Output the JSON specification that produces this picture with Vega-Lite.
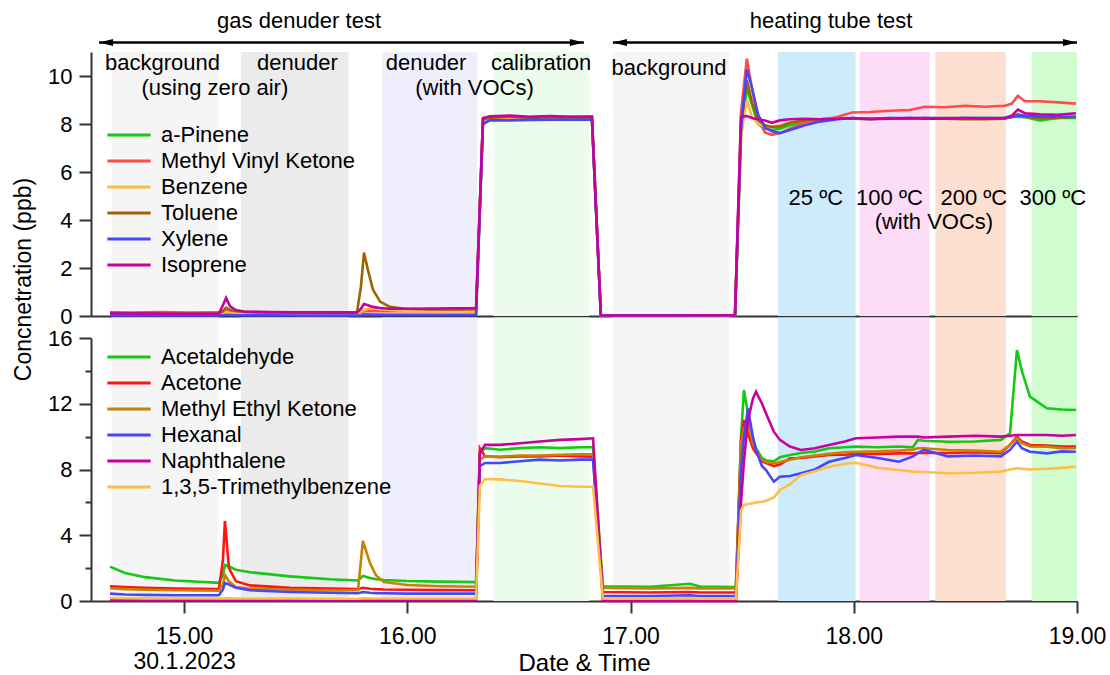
{
  "$schema": "https://vega.github.io/schema/vega-lite/v6.json",
  "background": "white",
  "padding": {"left": 12, "top": 10, "right": 5, "bottom": 2},
  "config": {
    "font": "Liberation Sans",
    "view": {"stroke": null},
    "axis": {"domainColor": "#333333", "tickColor": "#333333", "domainWidth": 2, "tickWidth": 2, "labelColor": "#000000", "titleColor": "#000000", "labelFont": "Liberation Sans", "titleFont": "Liberation Sans", "titleFontWeight": "normal", "grid": false},
    "legend": {"labelFont": "Liberation Sans", "labelColor": "#000000"}
  },
  "bounds": "flush",
  "spacing": 22,
  "datasets": {
    "regions": [
      {"phase": "bg1", "start": 14.676, "end": 15.154},
      {"phase": "den", "start": 15.254, "end": 15.737},
      {"phase": "denvoc", "start": 15.887, "end": 16.313},
      {"phase": "cal", "start": 16.386, "end": 16.815},
      {"phase": "bg2", "start": 16.92, "end": 17.443},
      {"phase": "t25", "start": 17.66, "end": 18.008},
      {"phase": "t100", "start": 18.026, "end": 18.34},
      {"phase": "t200", "start": 18.365, "end": 18.681},
      {"phase": "t300", "start": 18.797, "end": 19.0}
    ],
    "notes": [
      {"x": 14.903, "y": 10.54, "text": "background"},
      {"x": 15.138, "y": 9.5, "text": "(using zero air)"},
      {"x": 15.508, "y": 10.54, "text": "denuder"},
      {"x": 16.084, "y": 10.54, "text": "denuder"},
      {"x": 16.301, "y": 9.5, "text": "(with VOCs)"},
      {"x": 16.599, "y": 10.54, "text": "calibration"},
      {"x": 17.172, "y": 10.33, "text": "background"},
      {"x": 17.83, "y": 4.92, "text": "25 ºC"},
      {"x": 18.16, "y": 4.92, "text": "100 ºC"},
      {"x": 18.359, "y": 3.9, "text": "(with VOCs)"},
      {"x": 18.538, "y": 4.92, "text": "200 ºC"},
      {"x": 18.892, "y": 4.92, "text": "300 ºC"}
    ],
    "arrows": [
      {"from": 14.619, "to": 16.791, "mid": 15.515, "label": "gas denuder test"},
      {"from": 16.921, "to": 19.0, "mid": 17.898, "label": "heating tube test"}
    ],
    "top": [
      {"t": 14.668, "a-Pinene": 0.08, "Methyl Vinyl Ketone": 0.15, "Benzene": 0.1, "Toluene": 0.1, "Xylene": 0.02, "Isoprene": 0.12},
      {"t": 14.758, "a-Pinene": 0.07, "Methyl Vinyl Ketone": 0.14, "Benzene": 0.1, "Toluene": 0.1, "Xylene": 0.02, "Isoprene": 0.11},
      {"t": 14.892, "a-Pinene": 0.06, "Methyl Vinyl Ketone": 0.16, "Benzene": 0.1, "Toluene": 0.09, "Xylene": 0.02, "Isoprene": 0.1},
      {"t": 15.026, "a-Pinene": 0.06, "Methyl Vinyl Ketone": 0.14, "Benzene": 0.1, "Toluene": 0.09, "Xylene": 0.02, "Isoprene": 0.1},
      {"t": 15.156, "a-Pinene": 0.06, "Methyl Vinyl Ketone": 0.15, "Benzene": 0.1, "Toluene": 0.09, "Xylene": 0.02, "Isoprene": 0.1},
      {"t": 15.174, "a-Pinene": 0.08, "Methyl Vinyl Ketone": 0.15, "Benzene": 0.12, "Toluene": 0.2, "Xylene": 0.03, "Isoprene": 0.45},
      {"t": 15.188, "a-Pinene": 0.1, "Methyl Vinyl Ketone": 0.2, "Benzene": 0.15, "Toluene": 0.35, "Xylene": 0.05, "Isoprene": 0.75},
      {"t": 15.206, "a-Pinene": 0.08, "Methyl Vinyl Ketone": 0.18, "Benzene": 0.13, "Toluene": 0.25, "Xylene": 0.04, "Isoprene": 0.4},
      {"t": 15.232, "a-Pinene": 0.07, "Methyl Vinyl Ketone": 0.16, "Benzene": 0.12, "Toluene": 0.2, "Xylene": 0.03, "Isoprene": 0.25},
      {"t": 15.273, "a-Pinene": 0.06, "Methyl Vinyl Ketone": 0.15, "Benzene": 0.11, "Toluene": 0.17, "Xylene": 0.03, "Isoprene": 0.18},
      {"t": 15.385, "a-Pinene": 0.05, "Methyl Vinyl Ketone": 0.15, "Benzene": 0.1, "Toluene": 0.15, "Xylene": 0.03, "Isoprene": 0.16},
      {"t": 15.519, "a-Pinene": 0.05, "Methyl Vinyl Ketone": 0.14, "Benzene": 0.1, "Toluene": 0.14, "Xylene": 0.02, "Isoprene": 0.15},
      {"t": 15.654, "a-Pinene": 0.05, "Methyl Vinyl Ketone": 0.15, "Benzene": 0.1, "Toluene": 0.13, "Xylene": 0.02, "Isoprene": 0.15},
      {"t": 15.774, "a-Pinene": 0.05, "Methyl Vinyl Ketone": 0.14, "Benzene": 0.1, "Toluene": 0.13, "Xylene": 0.02, "Isoprene": 0.15},
      {"t": 15.792, "a-Pinene": 0.06, "Methyl Vinyl Ketone": 0.15, "Benzene": 0.15, "Toluene": 1.2, "Xylene": 0.03, "Isoprene": 0.3},
      {"t": 15.806, "a-Pinene": 0.08, "Methyl Vinyl Ketone": 0.2, "Benzene": 0.25, "Toluene": 2.64, "Xylene": 0.05, "Isoprene": 0.5},
      {"t": 15.824, "a-Pinene": 0.07, "Methyl Vinyl Ketone": 0.2, "Benzene": 0.3, "Toluene": 1.9, "Xylene": 0.05, "Isoprene": 0.45},
      {"t": 15.846, "a-Pinene": 0.06, "Methyl Vinyl Ketone": 0.2, "Benzene": 0.3, "Toluene": 1.1, "Xylene": 0.04, "Isoprene": 0.38},
      {"t": 15.878, "a-Pinene": 0.06, "Methyl Vinyl Ketone": 0.2, "Benzene": 0.28, "Toluene": 0.6, "Xylene": 0.04, "Isoprene": 0.33},
      {"t": 15.922, "a-Pinene": 0.05, "Methyl Vinyl Ketone": 0.2, "Benzene": 0.25, "Toluene": 0.38, "Xylene": 0.04, "Isoprene": 0.3},
      {"t": 15.99, "a-Pinene": 0.05, "Methyl Vinyl Ketone": 0.21, "Benzene": 0.22, "Toluene": 0.3, "Xylene": 0.04, "Isoprene": 0.3},
      {"t": 16.102, "a-Pinene": 0.05, "Methyl Vinyl Ketone": 0.2, "Benzene": 0.2, "Toluene": 0.27, "Xylene": 0.04, "Isoprene": 0.31},
      {"t": 16.214, "a-Pinene": 0.05, "Methyl Vinyl Ketone": 0.21, "Benzene": 0.2, "Toluene": 0.27, "Xylene": 0.04, "Isoprene": 0.32},
      {"t": 16.308, "a-Pinene": 0.05, "Methyl Vinyl Ketone": 0.2, "Benzene": 0.2, "Toluene": 0.28, "Xylene": 0.04, "Isoprene": 0.33},
      {"t": 16.339, "a-Pinene": 8.1, "Methyl Vinyl Ketone": 8.2, "Benzene": 8.15, "Toluene": 8.2, "Xylene": 8.0, "Isoprene": 8.25},
      {"t": 16.37, "a-Pinene": 8.2, "Methyl Vinyl Ketone": 8.3, "Benzene": 8.25, "Toluene": 8.25, "Xylene": 8.15, "Isoprene": 8.32},
      {"t": 16.46, "a-Pinene": 8.2, "Methyl Vinyl Ketone": 8.32, "Benzene": 8.25, "Toluene": 8.3, "Xylene": 8.15, "Isoprene": 8.35},
      {"t": 16.549, "a-Pinene": 8.22, "Methyl Vinyl Ketone": 8.28, "Benzene": 8.25, "Toluene": 8.25, "Xylene": 8.17, "Isoprene": 8.3},
      {"t": 16.639, "a-Pinene": 8.22, "Methyl Vinyl Ketone": 8.32, "Benzene": 8.25, "Toluene": 8.28, "Xylene": 8.18, "Isoprene": 8.33},
      {"t": 16.729, "a-Pinene": 8.2, "Methyl Vinyl Ketone": 8.3, "Benzene": 8.25, "Toluene": 8.25, "Xylene": 8.18, "Isoprene": 8.3},
      {"t": 16.827, "a-Pinene": 8.2, "Methyl Vinyl Ketone": 8.32, "Benzene": 8.25, "Toluene": 8.27, "Xylene": 8.18, "Isoprene": 8.3},
      {"t": 16.867, "a-Pinene": 0.03, "Methyl Vinyl Ketone": 0.03, "Benzene": 0.03, "Toluene": 0.03, "Xylene": 0.02, "Isoprene": 0.03},
      {"t": 16.953, "a-Pinene": 0.02, "Methyl Vinyl Ketone": 0.02, "Benzene": 0.02, "Toluene": 0.02, "Xylene": 0.02, "Isoprene": 0.02},
      {"t": 17.132, "a-Pinene": 0.02, "Methyl Vinyl Ketone": 0.03, "Benzene": 0.02, "Toluene": 0.02, "Xylene": 0.02, "Isoprene": 0.02},
      {"t": 17.311, "a-Pinene": 0.02, "Methyl Vinyl Ketone": 0.02, "Benzene": 0.02, "Toluene": 0.02, "Xylene": 0.02, "Isoprene": 0.03},
      {"t": 17.468, "a-Pinene": 0.03, "Methyl Vinyl Ketone": 0.03, "Benzene": 0.03, "Toluene": 0.03, "Xylene": 0.03, "Isoprene": 0.03},
      {"t": 17.495, "a-Pinene": 7.5, "Methyl Vinyl Ketone": 8.5, "Benzene": 7.5, "Toluene": 8.0, "Xylene": 7.8, "Isoprene": 8.3},
      {"t": 17.521, "a-Pinene": 9.5, "Methyl Vinyl Ketone": 10.72, "Benzene": 9.0, "Toluene": 9.83, "Xylene": 10.28, "Isoprene": 8.33},
      {"t": 17.544, "a-Pinene": 8.8, "Methyl Vinyl Ketone": 9.5, "Benzene": 8.3, "Toluene": 8.9, "Xylene": 9.5, "Isoprene": 8.25},
      {"t": 17.571, "a-Pinene": 8.0, "Methyl Vinyl Ketone": 8.2, "Benzene": 8.0, "Toluene": 8.2, "Xylene": 8.4, "Isoprene": 8.2},
      {"t": 17.602, "a-Pinene": 7.8, "Methyl Vinyl Ketone": 7.65, "Benzene": 7.9, "Toluene": 7.95, "Xylene": 7.85, "Isoprene": 8.15},
      {"t": 17.633, "a-Pinene": 7.75, "Methyl Vinyl Ketone": 7.55, "Benzene": 7.9, "Toluene": 7.87, "Xylene": 7.7, "Isoprene": 8.05},
      {"t": 17.669, "a-Pinene": 7.8, "Methyl Vinyl Ketone": 7.62, "Benzene": 7.95, "Toluene": 7.9, "Xylene": 7.62, "Isoprene": 8.15},
      {"t": 17.714, "a-Pinene": 7.95, "Methyl Vinyl Ketone": 7.8, "Benzene": 8.05, "Toluene": 8.05, "Xylene": 7.75, "Isoprene": 8.2},
      {"t": 17.781, "a-Pinene": 8.1, "Methyl Vinyl Ketone": 8.05, "Benzene": 8.15, "Toluene": 8.15, "Xylene": 7.95, "Isoprene": 8.22},
      {"t": 17.848, "a-Pinene": 8.2, "Methyl Vinyl Ketone": 8.15, "Benzene": 8.2, "Toluene": 8.2, "Xylene": 8.1, "Isoprene": 8.2},
      {"t": 17.929, "a-Pinene": 8.25, "Methyl Vinyl Ketone": 8.3, "Benzene": 8.22, "Toluene": 8.22, "Xylene": 8.2, "Isoprene": 8.22},
      {"t": 17.992, "a-Pinene": 8.22, "Methyl Vinyl Ketone": 8.48, "Benzene": 8.22, "Toluene": 8.23, "Xylene": 8.25, "Isoprene": 8.25},
      {"t": 18.072, "a-Pinene": 8.2, "Methyl Vinyl Ketone": 8.5, "Benzene": 8.22, "Toluene": 8.22, "Xylene": 8.22, "Isoprene": 8.2},
      {"t": 18.162, "a-Pinene": 8.25, "Methyl Vinyl Ketone": 8.55, "Benzene": 8.22, "Toluene": 8.23, "Xylene": 8.25, "Isoprene": 8.22},
      {"t": 18.251, "a-Pinene": 8.22, "Methyl Vinyl Ketone": 8.58, "Benzene": 8.25, "Toluene": 8.22, "Xylene": 8.25, "Isoprene": 8.25},
      {"t": 18.319, "a-Pinene": 8.25, "Methyl Vinyl Ketone": 8.72, "Benzene": 8.25, "Toluene": 8.25, "Xylene": 8.25, "Isoprene": 8.22},
      {"t": 18.408, "a-Pinene": 8.22, "Methyl Vinyl Ketone": 8.7, "Benzene": 8.25, "Toluene": 8.22, "Xylene": 8.25, "Isoprene": 8.22},
      {"t": 18.498, "a-Pinene": 8.25, "Methyl Vinyl Ketone": 8.76, "Benzene": 8.25, "Toluene": 8.2, "Xylene": 8.25, "Isoprene": 8.25},
      {"t": 18.587, "a-Pinene": 8.25, "Methyl Vinyl Ketone": 8.72, "Benzene": 8.22, "Toluene": 8.2, "Xylene": 8.25, "Isoprene": 8.22},
      {"t": 18.677, "a-Pinene": 8.25, "Methyl Vinyl Ketone": 8.76, "Benzene": 8.25, "Toluene": 8.22, "Xylene": 8.25, "Isoprene": 8.25},
      {"t": 18.708, "a-Pinene": 8.28, "Methyl Vinyl Ketone": 8.85, "Benzene": 8.3, "Toluene": 8.3, "Xylene": 8.3, "Isoprene": 8.35},
      {"t": 18.735, "a-Pinene": 8.3, "Methyl Vinyl Ketone": 9.17, "Benzene": 8.4, "Toluene": 8.4, "Xylene": 8.35, "Isoprene": 8.6},
      {"t": 18.767, "a-Pinene": 8.28, "Methyl Vinyl Ketone": 8.95, "Benzene": 8.35, "Toluene": 8.3, "Xylene": 8.35, "Isoprene": 8.45},
      {"t": 18.834, "a-Pinene": 8.15, "Methyl Vinyl Ketone": 8.95, "Benzene": 8.3, "Toluene": 8.25, "Xylene": 8.3, "Isoprene": 8.4},
      {"t": 18.914, "a-Pinene": 8.25, "Methyl Vinyl Ketone": 8.9, "Benzene": 8.3, "Toluene": 8.25, "Xylene": 8.3, "Isoprene": 8.38},
      {"t": 18.995, "a-Pinene": 8.25, "Methyl Vinyl Ketone": 8.85, "Benzene": 8.3, "Toluene": 8.3, "Xylene": 8.3, "Isoprene": 8.45}
    ],
    "bottom": [
      {"t": 14.668, "Acetaldehyde": 2.09, "Acetone": 0.9, "Methyl Ethyl Ketone": 0.78, "Hexanal": 0.45, "Naphthalene": 0.05, "1,3,5-Trimethylbenzene": 0.18},
      {"t": 14.735, "Acetaldehyde": 1.7, "Acetone": 0.85, "Methyl Ethyl Ketone": 0.72, "Hexanal": 0.4, "Naphthalene": 0.05, "1,3,5-Trimethylbenzene": 0.17},
      {"t": 14.825, "Acetaldehyde": 1.45, "Acetone": 0.8, "Methyl Ethyl Ketone": 0.68, "Hexanal": 0.37, "Naphthalene": 0.04, "1,3,5-Trimethylbenzene": 0.16},
      {"t": 14.959, "Acetaldehyde": 1.25, "Acetone": 0.75, "Methyl Ethyl Ketone": 0.65, "Hexanal": 0.35, "Naphthalene": 0.04, "1,3,5-Trimethylbenzene": 0.15},
      {"t": 15.156, "Acetaldehyde": 1.1, "Acetone": 0.72, "Methyl Ethyl Ketone": 0.62, "Hexanal": 0.35, "Naphthalene": 0.04, "1,3,5-Trimethylbenzene": 0.15},
      {"t": 15.174, "Acetaldehyde": 1.6, "Acetone": 2.5, "Methyl Ethyl Ketone": 1.0, "Hexanal": 0.7, "Naphthalene": 0.05, "1,3,5-Trimethylbenzene": 0.15},
      {"t": 15.183, "Acetaldehyde": 2.19, "Acetone": 4.87, "Methyl Ethyl Ketone": 1.58, "Hexanal": 1.1, "Naphthalene": 0.06, "1,3,5-Trimethylbenzene": 0.16},
      {"t": 15.201, "Acetaldehyde": 2.1, "Acetone": 2.0, "Methyl Ethyl Ketone": 1.2, "Hexanal": 1.0, "Naphthalene": 0.05, "1,3,5-Trimethylbenzene": 0.16},
      {"t": 15.232, "Acetaldehyde": 1.9, "Acetone": 1.2, "Methyl Ethyl Ketone": 0.85, "Hexanal": 0.8, "Naphthalene": 0.05, "1,3,5-Trimethylbenzene": 0.15},
      {"t": 15.295, "Acetaldehyde": 1.75, "Acetone": 0.95, "Methyl Ethyl Ketone": 0.75, "Hexanal": 0.65, "Naphthalene": 0.05, "1,3,5-Trimethylbenzene": 0.15},
      {"t": 15.474, "Acetaldehyde": 1.5, "Acetone": 0.8, "Methyl Ethyl Ketone": 0.68, "Hexanal": 0.55, "Naphthalene": 0.04, "1,3,5-Trimethylbenzene": 0.15},
      {"t": 15.654, "Acetaldehyde": 1.32, "Acetone": 0.75, "Methyl Ethyl Ketone": 0.65, "Hexanal": 0.5, "Naphthalene": 0.04, "1,3,5-Trimethylbenzene": 0.14},
      {"t": 15.779, "Acetaldehyde": 1.25, "Acetone": 0.72, "Methyl Ethyl Ketone": 0.65, "Hexanal": 0.47, "Naphthalene": 0.04, "1,3,5-Trimethylbenzene": 0.14},
      {"t": 15.801, "Acetaldehyde": 1.52, "Acetone": 0.8, "Methyl Ethyl Ketone": 3.65, "Hexanal": 0.55, "Naphthalene": 0.05, "1,3,5-Trimethylbenzene": 0.16},
      {"t": 15.833, "Acetaldehyde": 1.4, "Acetone": 0.75, "Methyl Ethyl Ketone": 2.3, "Hexanal": 0.5, "Naphthalene": 0.05, "1,3,5-Trimethylbenzene": 0.15},
      {"t": 15.86, "Acetaldehyde": 1.32, "Acetone": 0.72, "Methyl Ethyl Ketone": 1.55, "Hexanal": 0.48, "Naphthalene": 0.05, "1,3,5-Trimethylbenzene": 0.15},
      {"t": 15.895, "Acetaldehyde": 1.28, "Acetone": 0.7, "Methyl Ethyl Ketone": 1.15, "Hexanal": 0.47, "Naphthalene": 0.05, "1,3,5-Trimethylbenzene": 0.15},
      {"t": 15.999, "Acetaldehyde": 1.22, "Acetone": 0.68, "Methyl Ethyl Ketone": 0.97, "Hexanal": 0.45, "Naphthalene": 0.05, "1,3,5-Trimethylbenzene": 0.15},
      {"t": 16.146, "Acetaldehyde": 1.18, "Acetone": 0.66, "Methyl Ethyl Ketone": 0.9, "Hexanal": 0.45, "Naphthalene": 0.05, "1,3,5-Trimethylbenzene": 0.15},
      {"t": 16.308, "Acetaldehyde": 1.15, "Acetone": 0.65, "Methyl Ethyl Ketone": 0.87, "Hexanal": 0.45, "Naphthalene": 0.05, "1,3,5-Trimethylbenzene": 0.15},
      {"t": 16.325, "Acetaldehyde": 9.0, "Acetone": 9.3, "Methyl Ethyl Ketone": 8.6, "Hexanal": 8.2, "Naphthalene": 9.0, "1,3,5-Trimethylbenzene": 7.0},
      {"t": 16.348, "Acetaldehyde": 9.3, "Acetone": 8.8, "Methyl Ethyl Ketone": 8.8, "Hexanal": 8.4, "Naphthalene": 9.5, "1,3,5-Trimethylbenzene": 7.42},
      {"t": 16.415, "Acetaldehyde": 9.2, "Acetone": 8.75, "Methyl Ethyl Ketone": 8.78, "Hexanal": 8.4, "Naphthalene": 9.5, "1,3,5-Trimethylbenzene": 7.4},
      {"t": 16.505, "Acetaldehyde": 9.3, "Acetone": 8.8, "Methyl Ethyl Ketone": 8.85, "Hexanal": 8.5, "Naphthalene": 9.6, "1,3,5-Trimethylbenzene": 7.3},
      {"t": 16.594, "Acetaldehyde": 9.35, "Acetone": 8.8, "Methyl Ethyl Ketone": 8.85, "Hexanal": 8.6, "Naphthalene": 9.7, "1,3,5-Trimethylbenzene": 7.15},
      {"t": 16.684, "Acetaldehyde": 9.3, "Acetone": 8.85, "Methyl Ethyl Ketone": 8.9, "Hexanal": 8.55, "Naphthalene": 9.8, "1,3,5-Trimethylbenzene": 7.0},
      {"t": 16.773, "Acetaldehyde": 9.35, "Acetone": 8.8, "Methyl Ethyl Ketone": 8.92, "Hexanal": 8.6, "Naphthalene": 9.85, "1,3,5-Trimethylbenzene": 6.95},
      {"t": 16.832, "Acetaldehyde": 9.35, "Acetone": 8.78, "Methyl Ethyl Ketone": 8.92, "Hexanal": 8.6, "Naphthalene": 9.9, "1,3,5-Trimethylbenzene": 6.95},
      {"t": 16.876, "Acetaldehyde": 0.9, "Acetone": 0.55, "Methyl Ethyl Ketone": 0.8, "Hexanal": 0.3, "Naphthalene": 0.0, "1,3,5-Trimethylbenzene": 0.15},
      {"t": 17.087, "Acetaldehyde": 0.87, "Acetone": 0.52, "Methyl Ethyl Ketone": 0.77, "Hexanal": 0.3, "Naphthalene": 0.0, "1,3,5-Trimethylbenzene": 0.15},
      {"t": 17.266, "Acetaldehyde": 1.05, "Acetone": 0.55, "Methyl Ethyl Ketone": 0.8, "Hexanal": 0.35, "Naphthalene": 0.02, "1,3,5-Trimethylbenzene": 0.16},
      {"t": 17.311, "Acetaldehyde": 0.88, "Acetone": 0.52, "Methyl Ethyl Ketone": 0.77, "Hexanal": 0.3, "Naphthalene": 0.0, "1,3,5-Trimethylbenzene": 0.15},
      {"t": 17.472, "Acetaldehyde": 0.85, "Acetone": 0.52, "Methyl Ethyl Ketone": 0.77, "Hexanal": 0.3, "Naphthalene": 0.0, "1,3,5-Trimethylbenzene": 0.15},
      {"t": 17.495, "Acetaldehyde": 10.0, "Acetone": 9.8, "Methyl Ethyl Ketone": 9.5, "Hexanal": 8.0, "Naphthalene": 6.0, "1,3,5-Trimethylbenzene": 5.5},
      {"t": 17.508, "Acetaldehyde": 12.83, "Acetone": 11.0, "Methyl Ethyl Ketone": 10.5, "Hexanal": 10.0, "Naphthalene": 8.5, "1,3,5-Trimethylbenzene": 5.84},
      {"t": 17.526, "Acetaldehyde": 11.4, "Acetone": 10.2, "Methyl Ethyl Ketone": 10.8, "Hexanal": 11.72, "Naphthalene": 11.0, "1,3,5-Trimethylbenzene": 5.9},
      {"t": 17.548, "Acetaldehyde": 9.8, "Acetone": 9.3, "Methyl Ethyl Ketone": 9.6, "Hexanal": 10.0, "Naphthalene": 12.3, "1,3,5-Trimethylbenzene": 5.95},
      {"t": 17.562, "Acetaldehyde": 9.3, "Acetone": 9.0, "Methyl Ethyl Ketone": 9.2, "Hexanal": 9.2, "Naphthalene": 12.73, "1,3,5-Trimethylbenzene": 6.0},
      {"t": 17.589, "Acetaldehyde": 8.7, "Acetone": 8.5, "Methyl Ethyl Ketone": 8.6, "Hexanal": 8.2, "Naphthalene": 12.0, "1,3,5-Trimethylbenzene": 6.04},
      {"t": 17.607, "Acetaldehyde": 8.55, "Acetone": 8.4, "Methyl Ethyl Ketone": 8.45, "Hexanal": 7.97, "Naphthalene": 11.4, "1,3,5-Trimethylbenzene": 6.1},
      {"t": 17.642, "Acetaldehyde": 8.5, "Acetone": 8.21, "Methyl Ethyl Ketone": 8.37, "Hexanal": 7.26, "Naphthalene": 10.3, "1,3,5-Trimethylbenzene": 6.3},
      {"t": 17.669, "Acetaldehyde": 8.74, "Acetone": 8.3, "Methyl Ethyl Ketone": 8.45, "Hexanal": 7.56, "Naphthalene": 9.8, "1,3,5-Trimethylbenzene": 6.75},
      {"t": 17.714, "Acetaldehyde": 8.88, "Acetone": 8.68, "Methyl Ethyl Ketone": 8.6, "Hexanal": 7.6, "Naphthalene": 9.4, "1,3,5-Trimethylbenzene": 7.1},
      {"t": 17.763, "Acetaldehyde": 9.0, "Acetone": 8.7, "Methyl Ethyl Ketone": 8.75, "Hexanal": 7.77, "Naphthalene": 9.19, "1,3,5-Trimethylbenzene": 7.66},
      {"t": 17.826, "Acetaldehyde": 9.1, "Acetone": 8.8, "Methyl Ethyl Ketone": 8.85, "Hexanal": 8.0, "Naphthalene": 9.29, "1,3,5-Trimethylbenzene": 7.9},
      {"t": 17.889, "Acetaldehyde": 9.29, "Acetone": 8.88, "Methyl Ethyl Ketone": 8.95, "Hexanal": 8.47, "Naphthalene": 9.49, "1,3,5-Trimethylbenzene": 8.17},
      {"t": 17.96, "Acetaldehyde": 9.35, "Acetone": 8.9, "Methyl Ethyl Ketone": 9.05, "Hexanal": 8.7, "Naphthalene": 9.7, "1,3,5-Trimethylbenzene": 8.35},
      {"t": 18.01, "Acetaldehyde": 9.39, "Acetone": 8.95, "Methyl Ethyl Ketone": 9.08, "Hexanal": 8.88, "Naphthalene": 9.9, "1,3,5-Trimethylbenzene": 8.41},
      {"t": 18.108, "Acetaldehyde": 9.35, "Acetone": 8.95, "Methyl Ethyl Ketone": 9.1, "Hexanal": 8.7, "Naphthalene": 9.95, "1,3,5-Trimethylbenzene": 8.1},
      {"t": 18.202, "Acetaldehyde": 9.4, "Acetone": 8.98, "Methyl Ethyl Ketone": 9.15, "Hexanal": 8.47, "Naphthalene": 10.0, "1,3,5-Trimethylbenzene": 7.97},
      {"t": 18.265, "Acetaldehyde": 9.35, "Acetone": 8.98, "Methyl Ethyl Ketone": 9.2, "Hexanal": 8.8, "Naphthalene": 10.0, "1,3,5-Trimethylbenzene": 7.87},
      {"t": 18.287, "Acetaldehyde": 9.8, "Acetone": 9.0, "Methyl Ethyl Ketone": 9.29, "Hexanal": 9.0, "Naphthalene": 10.0, "1,3,5-Trimethylbenzene": 7.85},
      {"t": 18.314, "Acetaldehyde": 9.75, "Acetone": 9.0, "Methyl Ethyl Ketone": 9.29, "Hexanal": 9.19, "Naphthalene": 9.95, "1,3,5-Trimethylbenzene": 7.85},
      {"t": 18.422, "Acetaldehyde": 9.69, "Acetone": 9.0, "Methyl Ethyl Ketone": 9.19, "Hexanal": 8.8, "Naphthalene": 10.0, "1,3,5-Trimethylbenzene": 7.77},
      {"t": 18.543, "Acetaldehyde": 9.7, "Acetone": 9.05, "Methyl Ethyl Ketone": 9.15, "Hexanal": 8.85, "Naphthalene": 10.05, "1,3,5-Trimethylbenzene": 7.8},
      {"t": 18.659, "Acetaldehyde": 9.8, "Acetone": 9.0, "Methyl Ethyl Ketone": 9.08, "Hexanal": 8.8, "Naphthalene": 10.0, "1,3,5-Trimethylbenzene": 7.87},
      {"t": 18.7, "Acetaldehyde": 10.2, "Acetone": 9.5, "Methyl Ethyl Ketone": 9.5, "Hexanal": 9.2, "Naphthalene": 10.05, "1,3,5-Trimethylbenzene": 8.0},
      {"t": 18.731, "Acetaldehyde": 15.27, "Acetone": 10.0, "Methyl Ethyl Ketone": 9.9, "Hexanal": 9.69, "Naphthalene": 10.1, "1,3,5-Trimethylbenzene": 8.07},
      {"t": 18.753, "Acetaldehyde": 14.0, "Acetone": 9.7, "Methyl Ethyl Ketone": 9.6, "Hexanal": 9.3, "Naphthalene": 10.1, "1,3,5-Trimethylbenzene": 8.05},
      {"t": 18.789, "Acetaldehyde": 12.43, "Acetone": 9.49, "Methyl Ethyl Ketone": 9.4, "Hexanal": 9.08, "Naphthalene": 10.1, "1,3,5-Trimethylbenzene": 8.0},
      {"t": 18.865, "Acetaldehyde": 11.72, "Acetone": 9.45, "Methyl Ethyl Ketone": 9.38, "Hexanal": 8.98, "Naphthalene": 10.1, "1,3,5-Trimethylbenzene": 8.05},
      {"t": 18.932, "Acetaldehyde": 11.65, "Acetone": 9.4, "Methyl Ethyl Ketone": 9.3, "Hexanal": 9.1, "Naphthalene": 10.05, "1,3,5-Trimethylbenzene": 8.1},
      {"t": 18.995, "Acetaldehyde": 11.62, "Acetone": 9.39, "Methyl Ethyl Ketone": 9.29, "Hexanal": 9.08, "Naphthalene": 10.1, "1,3,5-Trimethylbenzene": 8.17}
    ]
  },
  "vconcat": [
    {
      "width": 986,
      "height": 264,
      "layer": [
        {
          "data": {"name": "regions"},
          "mark": {"type": "rect"},
          "encoding": {
            "x": {"field": "start", "type": "quantitative", "scale": {"domain": [14.583, 19.0], "nice": false, "zero": false}, "axis": {"orient": "bottom", "ticks": false, "labels": false, "title": null, "domain": true}},
            "x2": {"field": "end"},
            "y": {"datum": 0, "type": "quantitative", "scale": {"domain": [0, 11], "nice": false}, "axis": {"values": [0, 2, 4, 6, 8, 10], "tickSize": 12, "labelPadding": 7, "labelFontSize": 22, "title": "Concnetration (ppb)", "titleFontSize": 23, "titleAngle": -90, "titleX": -68, "titleY": 227, "titleAlign": "center", "titleBaseline": "middle"}},
            "y2": {"datum": 11},
            "fill": {"field": "phase", "type": "nominal", "scale": {"domain": ["bg1", "den", "denvoc", "cal", "bg2", "t25", "t100", "t200", "t300"], "range": ["#f5f5f5", "#ebebeb", "#eeeefc", "#ecfcec", "#f5f5f5", "#cdebfb", "#fddcf7", "#fcdfd0", "#d1fcd0"]}, "legend": null}
          }
        },
        {
          "data": {"name": "top"},
          "transform": [{"fold": ["a-Pinene", "Methyl Vinyl Ketone", "Benzene", "Toluene", "Xylene", "Isoprene"], "as": ["species", "ppb"]}],
          "mark": {"type": "line", "strokeWidth": 2.6},
          "encoding": {
            "x": {"field": "t", "type": "quantitative"},
            "y": {"field": "ppb", "type": "quantitative"},
            "color": {"field": "species", "type": "nominal", "scale": {"domain": ["a-Pinene", "Methyl Vinyl Ketone", "Benzene", "Toluene", "Xylene", "Isoprene"], "range": ["#14c814", "#ff4b4b", "#ffbb3b", "#9c6400", "#4646ff", "#c800a0"]}, "legend": {"orient": "none", "legendX": 14, "legendY": 72, "title": null, "symbolType": "M-1,0L4,0", "symbolSize": 300, "symbolStrokeWidth": 3, "labelFontSize": 22, "labelOffset": 34, "rowPadding": 4, "padding": 0, "labelLimit": 400}}
          }
        },
        {
          "data": {"name": "notes"},
          "mark": {"type": "text", "fontSize": 22, "align": "center", "baseline": "middle", "color": "#000000"},
          "encoding": {
            "x": {"field": "x", "type": "quantitative"},
            "y": {"field": "y", "type": "quantitative"},
            "text": {"field": "text"}
          }
        },
        {
          "data": {"name": "arrows"},
          "mark": {"type": "rule", "strokeWidth": 2.5, "color": "#000000"},
          "encoding": {
            "x": {"field": "from", "type": "quantitative"},
            "x2": {"field": "to"},
            "y": {"datum": 11.4, "type": "quantitative"}
          }
        },
        {
          "data": {"name": "arrows"},
          "mark": {"type": "point", "shape": "M0,0L2,-0.5L2,0.5Z", "size": 196, "filled": true, "opacity": 1, "color": "#000000"},
          "encoding": {
            "x": {"field": "from", "type": "quantitative"},
            "y": {"datum": 11.4, "type": "quantitative"}
          }
        },
        {
          "data": {"name": "arrows"},
          "mark": {"type": "point", "shape": "M0,0L-2,-0.5L-2,0.5Z", "size": 196, "filled": true, "opacity": 1, "color": "#000000"},
          "encoding": {
            "x": {"field": "to", "type": "quantitative"},
            "y": {"datum": 11.4, "type": "quantitative"}
          }
        },
        {
          "data": {"name": "arrows"},
          "mark": {"type": "text", "fontSize": 22, "align": "center", "baseline": "middle", "color": "#000000"},
          "encoding": {
            "x": {"field": "mid", "type": "quantitative"},
            "y": {"datum": 12.29, "type": "quantitative"},
            "text": {"field": "label"}
          }
        }
      ]
    },
    {
      "width": 986,
      "height": 263,
      "layer": [
        {
          "data": {"name": "regions"},
          "mark": {"type": "rect"},
          "encoding": {
            "x": {"field": "start", "type": "quantitative", "scale": {"domain": [14.583, 19.0], "nice": false, "zero": false}, "axis": {"values": [15, 16, 17, 18, 19], "labelExpr": "datum.value == 15 ? ['15.00', '30.1.2023'] : format(datum.value, '.2f')", "tickSize": 12, "labelPadding": 12, "labelFontSize": 23, "labelLineHeight": 25, "labelFlush": false, "labelOverlap": false, "title": "Date & Time", "titleFontSize": 24, "titleY": 62, "titleBaseline": "middle"}},
            "x2": {"field": "end"},
            "y": {"datum": 0, "type": "quantitative", "scale": {"domain": [0, 16], "nice": false}, "axis": {"orient": "left", "values": [2, 6, 10, 14], "tickSize": 6, "labels": false, "domain": false, "title": null}},
            "y2": {"datum": 17.25},
            "fill": {"field": "phase", "type": "nominal", "legend": null}
          }
        },
        {
          "data": {"name": "bottom"},
          "transform": [{"fold": ["Acetaldehyde", "Acetone", "Methyl Ethyl Ketone", "Hexanal", "Naphthalene", "1,3,5-Trimethylbenzene"], "as": ["species", "ppb"]}],
          "mark": {"type": "line", "strokeWidth": 2.6},
          "encoding": {
            "x": {"field": "t", "type": "quantitative"},
            "y": {"field": "ppb", "type": "quantitative", "axis": {"orient": "left", "values": [0, 4, 8, 12, 16], "tickSize": 12, "labelPadding": 7, "labelFontSize": 22, "title": null}},
            "color": {"field": "species", "type": "nominal", "scale": {"domain": ["Acetaldehyde", "Acetone", "Methyl Ethyl Ketone", "Hexanal", "Naphthalene", "1,3,5-Trimethylbenzene"], "range": ["#14c814", "#ff1414", "#c88200", "#4646ff", "#c800a0", "#ffbe46"]}, "legend": {"orient": "none", "legendX": 14, "legendY": 8, "title": null, "symbolType": "M-1,0L4,0", "symbolSize": 300, "symbolStrokeWidth": 3, "labelFontSize": 22, "labelOffset": 34, "rowPadding": 4, "padding": 0, "labelLimit": 400}}
          }
        }
      ],
      "resolve": {"axis": {"y": "independent"}}
    }
  ],
  "resolve": {"scale": {"y": "independent", "color": "independent"}, "legend": {"color": "independent"}}
}
